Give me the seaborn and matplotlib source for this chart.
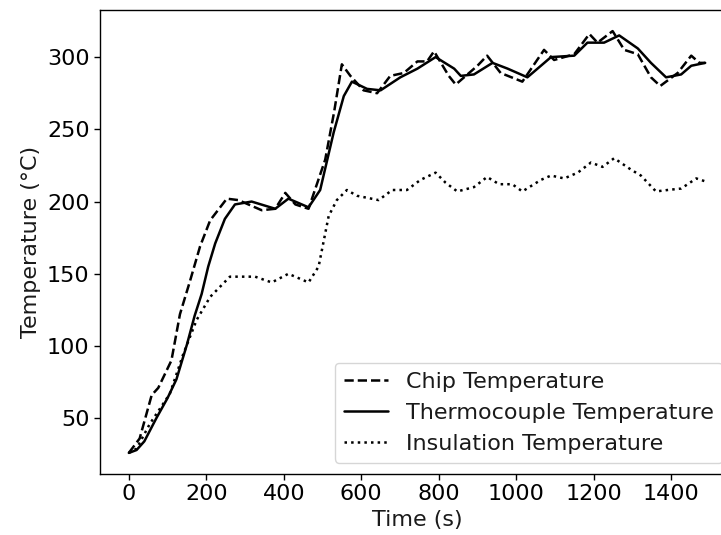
import matplotlib
matplotlib.use("Agg")
import matplotlib.pyplot as plt
import seaborn as sns

# Chip temperature (dashed)
chip_t = [0, 28, 59, 76, 110, 132, 158, 184, 210, 253, 283, 343, 378, 404, 430, 464,
          507, 530, 550, 572, 606, 641, 675, 710, 745, 770, 788, 826, 844, 900, 925,
          960, 1016, 1072, 1098, 1150, 1189, 1210, 1249, 1279, 1314, 1348, 1372, 1417,
          1452, 1473, 1488]
chip_T = [26, 36, 66, 71, 90, 122, 145, 169, 187, 202, 201, 194, 195, 206, 198, 195,
          229, 262, 295, 287, 277, 275, 287, 289, 297, 297, 304, 287, 281, 294, 301,
          289, 283, 305, 298, 302, 316, 310, 318, 305, 302, 286, 280, 289,
          301, 296, 296]

# Thermocouple temperature (solid)
tc_t = [0, 20, 40, 71, 100, 123, 150, 170, 188, 205, 223, 248, 274, 317, 378, 412,
        464, 494, 529, 555, 576, 615, 650, 701, 745, 792, 840, 857, 891, 939, 978,
        1029, 1090, 1150, 1184, 1227, 1266, 1314, 1348, 1387, 1426, 1452, 1488]
tc_T = [26, 28, 34, 50, 64, 77, 101, 121, 136, 155, 171, 188, 198, 200, 195, 202,
        196, 208, 248, 273, 283, 278, 277, 286, 292, 300, 292, 287, 288, 296, 292,
        286, 300, 301, 310, 310, 315, 306, 296, 286, 288, 294, 296]

# Insulation temperature (dotted)
ins_t = [0, 20, 54, 106, 140, 175, 210, 261, 326, 369, 412, 464, 490, 516, 537, 563,
         589, 645, 680, 718, 753, 792, 818, 848, 891, 925, 956, 990, 1016, 1064, 1090,
         1124, 1159, 1193, 1223, 1253, 1297, 1322, 1361, 1391, 1426, 1465, 1488]
ins_T = [26, 29, 46, 67, 94, 118, 134, 148, 148, 144, 150, 144, 155, 190, 201, 208,
         204, 201, 208, 208, 215, 220, 213, 207, 210, 217, 212, 212, 207, 215, 218,
         216, 220, 227, 224, 230, 222, 218, 207, 208, 209, 216, 214]

labels = ["Chip Temperature", "Thermocouple Temperature", "Insulation Temperature"]
xticks = [0, 200, 400, 600, 800, 1000, 1200, 1400]
yticks = [50, 100, 150, 200, 250, 300]

sns.set_theme(style="ticks")
plt.rcParams.update({
    "font.family": ["DejaVu Sans"],
    "font.size": 16,
    "axes.labelsize": 16,
    "xtick.labelsize": 16,
    "ytick.labelsize": 16,
    "legend.fontsize": 16,
    "axes.edgecolor": "black",
    "axes.linewidth": 1.0,
    "xtick.color": "black",
    "ytick.color": "black",
    "text.color": "#1a1a1a",
    "axes.labelcolor": "#1a1a1a",
})

fig = plt.figure(figsize=(7.21, 5.35), dpi=100)
ax = fig.add_axes([100 / 721, 1 - 474 / 535, 634 / 721, 464 / 535])

sns.lineplot(x=chip_t, y=chip_T, ax=ax, color="black", linestyle="--", linewidth=1.8, label=labels[0])
sns.lineplot(x=tc_t, y=tc_T, ax=ax, color="black", linestyle="-", linewidth=1.8, label=labels[1])
sns.lineplot(x=ins_t, y=ins_T, ax=ax, color="black", linestyle=":", linewidth=1.8, label=labels[2])

ax.set_xticks(xticks)
ax.set_yticks(yticks)
ax.set_xlabel("Time (s)")
ax.set_ylabel("Temperature (°C)")
ax.tick_params(direction="out", length=4, width=1)
ax.legend(loc="lower right", frameon=True)

fig.savefig("out.png", dpi=100)
